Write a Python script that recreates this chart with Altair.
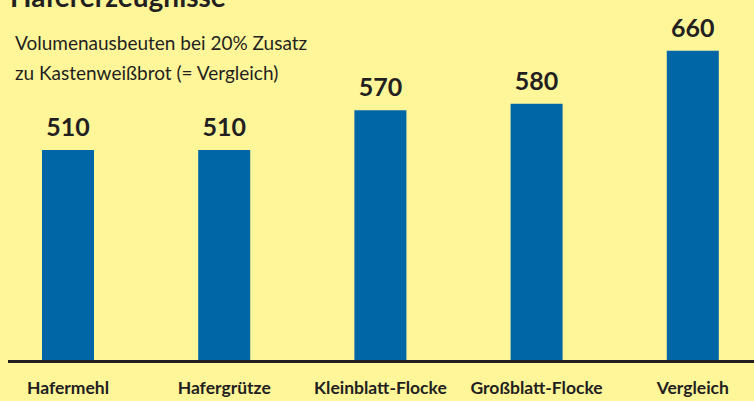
import altair as alt
import pandas as pd

categories = ["Hafermehl", "Hafergrütze", "Kleinblatt-Flocke", "Großblatt-Flocke", "Vergleich"]
values = [510, 510, 570, 580, 660]
title_text = "Hafererzeugnisse"
subtitle_lines = ["Volumenausbeuten bei 20% Zusatz", "zu Kastenweißbrot (= Vergleich)"]

BG = "#FFF69A"
BLUE = "#0066A6"
INK = "#231F20"
FONT = "Lato"
Y0 = 192

df = pd.DataFrame({"cat": categories, "val": values, "base": [Y0] * len(values)})

x = alt.X(
    "cat:N",
    sort=categories,
    scale=alt.Scale(range=[42, 718.8], paddingInner=0.667, paddingOuter=0),
    axis=alt.Axis(
        title=None, domain=False, ticks=False, tickSize=0, labelAngle=0,
        labelFont=FONT, labelFontSize=17.5, labelFontWeight="bold",
        labelColor=INK, labelPadding=19, grid=False,
    ),
)
yscale = alt.Scale(domain=[Y0, 737], zero=False, nice=False)

bars = alt.Chart(df).mark_bar(color=BLUE).encode(
    x=x,
    y=alt.Y("val:Q", scale=yscale, axis=None),
    y2="base:Q",
)

labels = alt.Chart(df).mark_text(
    font=FONT, fontSize=25, fontWeight="bold", color=INK,
    baseline="alphabetic", dy=-14,
).encode(
    x=alt.X("cat:N", sort=categories),
    y=alt.Y("val:Q", scale=yscale),
    text="val:Q",
)

baseline = alt.Chart(df).mark_rule(color=INK, strokeWidth=3, yOffset=1.5).encode(
    x=alt.value(8), x2=alt.value(754), y=alt.Y("base:Q", scale=yscale)
)

title = alt.Chart(pd.DataFrame({"t": [title_text]})).mark_text(
    font=FONT, fontSize=28, fontWeight="bold", color=INK, align="left", baseline="alphabetic"
).encode(x=alt.value(10), y=alt.value(7), text="t:N")

sub1 = alt.Chart(pd.DataFrame({"t": [subtitle_lines[0]]})).mark_text(
    font=FONT, fontSize=19, color=INK, align="left", baseline="alphabetic"
).encode(x=alt.value(15), y=alt.value(50), text="t:N")
sub2 = alt.Chart(pd.DataFrame({"t": [subtitle_lines[1]]})).mark_text(
    font=FONT, fontSize=19, color=INK, align="left", baseline="alphabetic"
).encode(x=alt.value(15), y=alt.value(80), text="t:N")

chart = alt.layer(bars, baseline, labels, title, sub1, sub2).properties(
    width=754, height=360, background=BG,
    padding={"left": 0, "top": 0, "right": 0, "bottom": 41},
    autosize=alt.AutoSizeParams(type="none"),
).configure_view(stroke=None, fill=BG)

chart.save("out.html", embed_options={"renderer": "svg", "actions": False})
